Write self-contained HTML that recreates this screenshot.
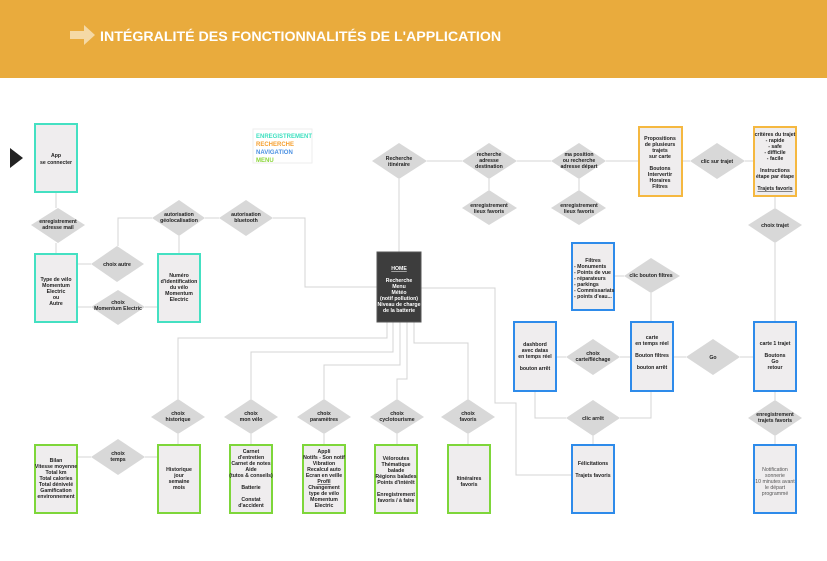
<!DOCTYPE html>
<html><head><meta charset="utf-8"><style>
html,body{margin:0;padding:0;background:#fff;}
svg{display:block;font-family:"Liberation Sans",sans-serif;}
.d{fill:#d8d8d8;}
.b{fill:#efedee;stroke-width:2;}
.t{font-size:5.2px;font-weight:bold;fill:#222;text-anchor:middle;}
.l{fill:none;stroke:#d4d4d4;stroke-width:1;}
</style></head><body>
<svg width="827" height="561" viewBox="0 0 827 561">
<rect x="0" y="0" width="827" height="78" fill="#e9ab3d"/>
<path d="M70 31 H84 V25 L95 35 L84 45 V39 H70 Z" fill="#f5d9a5"/>
<text x="100" y="41" font-size="14.2" font-weight="bold" fill="#fff">INTÉGRALITÉ DES FONCTIONNALITÉS DE L'APPLICATION</text>
<polygon points="10,148 23,158 10,168" fill="#222"/>
<g class="l">
<path d="M56 192V208M56 243V253M77 264H91M77 307H91M145 307H157M118 246V218H152M179 253V236M205 218H219M273 218H305V287H377"/>
<path d="M399 179V252M427 161H462M517 161H551M606 161H638M682 161H690M745 161H753M489 179V190M579 179V190M775 196V208M775 243V322"/>
<path d="M387 322V338H178V399M393 322V352H251V399M400 322V365H324V399M407 322V379H397V399M414 322V343H468V399M421 288H495V403H516V475H571"/>
<path d="M178 434V444M251 434V444M324 434V444M397 434V444M468 434V444M77 457H91M145 457H157"/>
<path d="M614 276H624M651 293V322M556 357H566M620 357H630M673 357H686M740 357H753M535 391V418H566M651 391V418H620M593 436V444M775 391V400M775 436V444"/>
</g>
<rect x="253" y="129" width="59" height="34" fill="#fff" stroke="#eee"/>
<g font-size="6" font-weight="bold">
<text x="256" y="138" fill="#3ee0c0">ENREGISTREMENT</text>
<text x="256" y="146" fill="#f5a030">RECHERCHE</text>
<text x="256" y="154" fill="#4a90e2">NAVIGATION</text>
<text x="256" y="162" fill="#8bd63a">MENU</text>
</g>
<g class="b" stroke="#44e0c2">
<rect x="35" y="124" width="42" height="68"/><rect x="35" y="254" width="42" height="68"/><rect x="158" y="254" width="42" height="68"/>
</g>
<g class="b" stroke="#f5b840">
<rect x="639" y="127" width="43" height="69"/><rect x="754" y="127" width="42" height="69"/>
</g>
<g class="b" stroke="#2e8bea">
<rect x="572" y="243" width="42" height="67"/><rect x="514" y="322" width="42" height="69"/><rect x="631" y="322" width="42" height="69"/><rect x="754" y="322" width="42" height="69"/><rect x="572" y="445" width="42" height="68"/><rect x="754" y="445" width="42" height="68"/>
</g>
<g class="b" stroke="#7ed63a">
<rect x="35" y="445" width="42" height="68"/><rect x="158" y="445" width="42" height="68"/><rect x="230" y="445" width="42" height="68"/><rect x="303" y="445" width="42" height="68"/><rect x="375" y="445" width="42" height="68"/><rect x="448" y="445" width="42" height="68"/>
</g>
<rect x="377" y="252" width="44" height="70" fill="#3d3d3d" stroke="#555"/>
<g class="d">
<polygon points="31,225 58,208 85,225 58,243"/>
<polygon points="91,264 117,246 144,264 117,282"/>
<polygon points="91,307 118,290 145,307 118,325"/>
<polygon points="152,218 179,200 205,218 179,236"/>
<polygon points="219,218 246,200 273,218 246,236"/>
<polygon points="372,161 399,143 427,161 399,179"/>
<polygon points="462,161 489,143 517,161 489,179"/>
<polygon points="551,161 579,143 606,161 579,179"/>
<polygon points="462,208 489,190 517,208 489,225"/>
<polygon points="551,208 579,190 606,208 579,225"/>
<polygon points="690,161 717,143 745,161 717,179"/>
<polygon points="748,225 775,208 802,225 775,243"/>
<polygon points="624,276 651,258 680,276 651,293"/>
<polygon points="566,357 593,339 620,357 593,375"/>
<polygon points="686,357 713,339 740,357 713,375"/>
<polygon points="566,418 593,400 620,418 593,436"/>
<polygon points="748,418 775,400 802,418 775,436"/>
<polygon points="151,417 178,399 205,417 178,434"/>
<polygon points="224,417 251,399 278,417 251,434"/>
<polygon points="297,417 324,399 351,417 324,434"/>
<polygon points="370,417 397,399 424,417 397,434"/>
<polygon points="441,417 468,399 495,417 468,434"/>
<polygon points="91,457 118,439 145,457 118,475"/>
</g>
<g class="t">
<text x="56" y="157">App</text><text x="56" y="164">se connecter</text>
<text x="58" y="223">enregistrement</text><text x="58" y="229">adresse mail</text>
<text x="56" y="281">Type de vélo</text><text x="56" y="287">Momentum</text><text x="56" y="293">Electric</text><text x="56" y="299">ou</text><text x="56" y="305">Autre</text>
<text x="117" y="266">choix autre</text>
<text x="118" y="304">choix</text><text x="118" y="310">Momentum Electric</text>
<text x="179" y="277">Numéro</text><text x="179" y="283">d'identification</text><text x="179" y="289">du vélo</text><text x="179" y="295">Momentum</text><text x="179" y="301">Electric</text>
<text x="179" y="216">autorisation</text><text x="179" y="222">géolocalisation</text>
<text x="246" y="216">autorisation</text><text x="246" y="222">bluetooth</text>
<text x="399" y="160">Recherche</text><text x="399" y="166">itinéraire</text>
<text x="489" y="156">recherche</text><text x="489" y="162">adresse</text><text x="489" y="168">destination</text>
<text x="579" y="156">ma position</text><text x="579" y="162">ou recherche</text><text x="579" y="168">adresse départ</text>
<text x="489" y="207">enregistrement</text><text x="489" y="213">lieux favoris</text>
<text x="579" y="207">enregistrement</text><text x="579" y="213">lieux favoris</text>
<text x="660" y="140">Propositions</text><text x="660" y="146">de plusieurs</text><text x="660" y="152">trajets</text><text x="660" y="158">sur carte</text><text x="660" y="170">Boutons</text><text x="660" y="176">Intervertir</text><text x="660" y="182">Horaires</text><text x="660" y="188">Filtres</text>
<text x="717" y="163">clic sur trajet</text>
<text x="775" y="136">critères du trajet</text><text x="775" y="142">- rapide</text><text x="775" y="148">- safe</text><text x="775" y="154">- difficile</text><text x="775" y="160">- facile</text><text x="775" y="172">Instructions</text><text x="775" y="178">étape par étape</text><text x="775" y="190" text-decoration="underline">Trajets favoris</text>
<text x="775" y="227">choix trajet</text>
<text x="593" y="262">Filtres</text>
<text x="574" y="268" text-anchor="start">- Monuments</text><text x="574" y="274" text-anchor="start">- Points de vue</text><text x="574" y="280" text-anchor="start">- réparateurs</text><text x="574" y="286" text-anchor="start">- parkings</text><text x="574" y="292" text-anchor="start">- Commissariats</text><text x="574" y="298" text-anchor="start">- points d'eau...</text>
<text x="651" y="277">clic bouton filtres</text>
<text x="535" y="346">dashbord</text><text x="535" y="352">avec datas</text><text x="535" y="358">en temps réel</text><text x="535" y="370">bouton arrêt</text>
<text x="593" y="355">choix</text><text x="593" y="361">carte/fléchage</text>
<text x="652" y="339">carte</text><text x="652" y="345">en temps réel</text><text x="652" y="357">Bouton filtres</text><text x="652" y="369">bouton arrêt</text>
<text x="713" y="359">Go</text>
<text x="775" y="345">carte 1 trajet</text><text x="775" y="357">Boutons</text><text x="775" y="363">Go</text><text x="775" y="369">retour</text>
<text x="593" y="420">clic arrêt</text>
<text x="593" y="465">Félicitations</text><text x="593" y="477">Trajets favoris</text>
<text x="775" y="416">enregistrement</text><text x="775" y="422">trajets favoris</text>
<g font-weight="normal" fill="#555"><text x="775" y="471">Notification</text><text x="775" y="477">sonnerie</text><text x="775" y="483">10 minutes avant</text><text x="775" y="489">le départ</text><text x="775" y="495">programmé</text></g>
<g fill="#fff"><text x="399" y="270" text-decoration="underline">HOME</text><text x="399" y="282">Recherche</text><text x="399" y="288">Menu</text><text x="399" y="294">Météo</text><text x="399" y="300">(notif pollution)</text><text x="399" y="306">Niveau de charge</text><text x="399" y="312">de la batterie</text></g>
<text x="178" y="415">choix</text><text x="178" y="421">historique</text>
<text x="251" y="415">choix</text><text x="251" y="421">mon vélo</text>
<text x="324" y="415">choix</text><text x="324" y="421">paramètres</text>
<text x="397" y="415">choix</text><text x="397" y="421">cyclotourisme</text>
<text x="468" y="415">choix</text><text x="468" y="421">favoris</text>
<text x="118" y="455">choix</text><text x="118" y="461">temps</text>
<text x="56" y="462">Bilan</text><text x="56" y="468">Vitesse moyenne</text><text x="56" y="474">Total km</text><text x="56" y="480">Total calories</text><text x="56" y="486">Total dénivelé</text><text x="56" y="492">Gamification</text><text x="56" y="498">environnement</text>
<text x="179" y="471">Historique</text><text x="179" y="477">jour</text><text x="179" y="483">semaine</text><text x="179" y="489">mois</text>
<text x="251" y="453">Carnet</text><text x="251" y="459">d'entretien</text><text x="251" y="465">Carnet de notes</text><text x="251" y="471">Aide</text><text x="251" y="477">(tutos &amp; conseils)</text><text x="251" y="489">Batterie</text><text x="251" y="501">Constat</text><text x="251" y="507">d'accident</text>
<text x="324" y="453">Appli</text><text x="324" y="459">Notifs - Son notif</text><text x="324" y="465">Vibration</text><text x="324" y="471">Recalcul auto</text><text x="324" y="477">Ecran en veille</text><text x="324" y="483" text-decoration="underline">Profil</text><text x="324" y="489">Changement</text><text x="324" y="495">type de vélo</text><text x="324" y="501">Momentum</text><text x="324" y="507">Electric</text>
<text x="396" y="460">Véloroutes</text><text x="396" y="466">Thématique</text><text x="396" y="472">balade</text><text x="396" y="478">Régions balades</text><text x="396" y="484">Points d'intérêt</text><text x="396" y="496">Enregistrement</text><text x="396" y="502">favoris / à faire</text>
<text x="469" y="480">Itinéraires</text><text x="469" y="486">favoris</text>
</g>
</svg>
</body></html>
